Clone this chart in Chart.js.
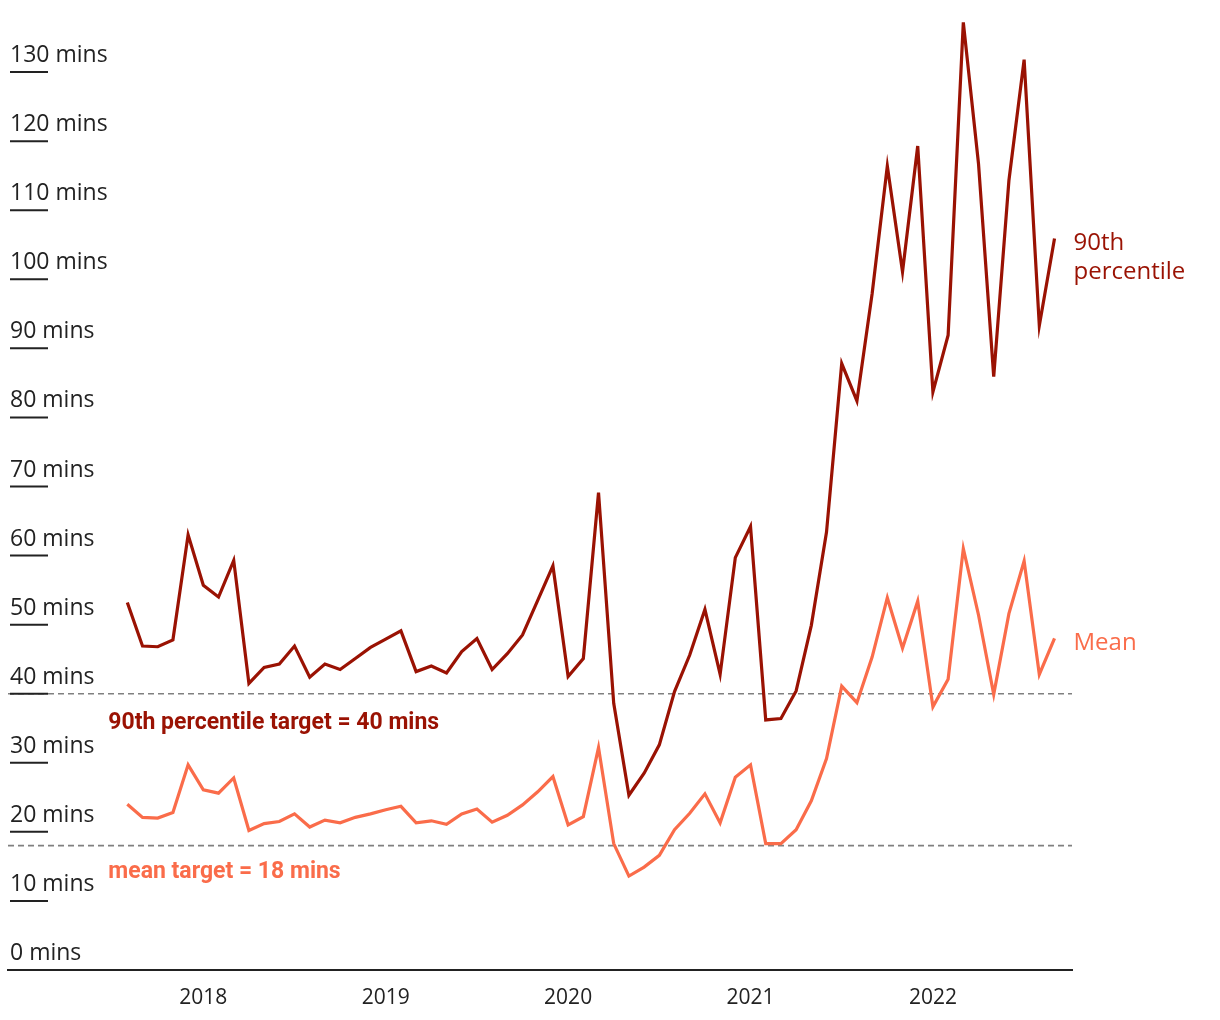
<!DOCTYPE html>
<html>
<head>
<meta charset="utf-8">
<script src="https://cdn.jsdelivr.net/npm/chart.js@4.4.1/dist/chart.umd.min.js"></script>
<style>
  html, body { margin: 0; padding: 0; background: #fff; }
  #wrap { width: 1220px; height: 1020px; position: relative; }
</style>
</head>
<body>
<div id="wrap"><canvas id="chart"></canvas></div>
<script>
// monthly response times, Aug 2017 - Sep 2022
const months = [
  'Aug 2017', 'Sep 2017', 'Oct 2017', 'Nov 2017', 'Dec 2017',
  'Jan 2018', 'Feb 2018', 'Mar 2018', 'Apr 2018', 'May 2018', 'Jun 2018',
  'Jul 2018', 'Aug 2018', 'Sep 2018', 'Oct 2018', 'Nov 2018', 'Dec 2018',
  'Jan 2019', 'Feb 2019', 'Mar 2019', 'Apr 2019', 'May 2019', 'Jun 2019',
  'Jul 2019', 'Aug 2019', 'Sep 2019', 'Oct 2019', 'Nov 2019', 'Dec 2019',
  'Jan 2020', 'Feb 2020', 'Mar 2020', 'Apr 2020', 'May 2020', 'Jun 2020',
  'Jul 2020', 'Aug 2020', 'Sep 2020', 'Oct 2020', 'Nov 2020', 'Dec 2020',
  'Jan 2021', 'Feb 2021', 'Mar 2021', 'Apr 2021', 'May 2021', 'Jun 2021',
  'Jul 2021', 'Aug 2021', 'Sep 2021', 'Oct 2021', 'Nov 2021', 'Dec 2021',
  'Jan 2022', 'Feb 2022', 'Mar 2022', 'Apr 2022', 'May 2022', 'Jun 2022',
  'Jul 2022', 'Aug 2022', 'Sep 2022'
];

const pct90 = [
  53.2, 46.9, 46.8, 47.8, 63.0,
  55.7, 54.0, 59.3, 41.5, 43.8, 44.3, 46.9, 42.4, 44.3, 43.5, 45.1, 46.7,
  47.9, 49.1, 43.2, 44.0, 43.0, 46.1, 48.0, 43.5, 45.8, 48.5, 53.5, 58.5,
  42.5, 45.1, 69.1, 38.6, 25.3, 28.5, 32.6, 40.3, 45.6, 52.2, 42.8, 59.7,
  64.2, 36.2, 36.4, 40.4, 49.9, 63.4, 87.8, 82.4, 97.9, 116.4, 101.1, 119.3,
  83.7, 91.9, 137.2, 116.7, 85.9, 114.3, 131.8, 93.3, 105.9
];

const mean = [
  24.0, 22.1, 22.0, 22.8, 29.7,
  26.1, 25.6, 27.8, 20.2, 21.2, 21.5, 22.6, 20.7, 21.7, 21.3, 22.1, 22.6,
  23.2, 23.7, 21.3, 21.6, 21.1, 22.6, 23.3, 21.4, 22.4, 23.9, 25.8, 28.0,
  21.0, 22.2, 32.2, 18.3, 13.6, 14.9, 16.6, 20.3, 22.7, 25.5, 21.3, 27.9,
  29.7, 18.3, 18.3, 20.3, 24.5, 30.6, 41.1, 38.7, 45.3, 53.9, 46.6, 53.4,
  38.1, 42.1, 61.0, 51.4, 39.9, 51.6, 59.2, 42.8, 48.0
];

const yTicks = [0, 10, 20, 30, 40, 50, 60, 70, 80, 90, 100, 110, 120, 130];
const targetValues = [40, 18];
const targetLabels = ['90th percentile target = 40 mins', 'mean target = 18 mins'];
const seriesLabels = [['90th', 'percentile'], ['Mean']];

const DARK = '#9a1203';
const ORANGE = '#fa6c4a';
const TEXT = '#222222';
const FONT = '"Open Sans", sans-serif';

const toPoints = (arr) => arr.map((v, i) => ({ x: i, y: v }));

const overlay = {
  id: 'overlay',
  beforeDatasetsDraw(chart) {
    const { ctx, chartArea, scales: { y } } = chart;
    ctx.save();
    // target lines
    ctx.setLineDash([6, 4]);
    ctx.strokeStyle = '#808080';
    ctx.lineWidth = 1.6;
    targetValues.forEach((v) => {
      const py = y.getPixelForValue(v);
      ctx.beginPath();
      ctx.moveTo(chartArea.left, py);
      ctx.lineTo(chartArea.right, py);
      ctx.stroke();
    });
    ctx.setLineDash([]);

    // y axis labels sitting on short tick lines
    ctx.font = '23px ' + FONT;
    ctx.fillStyle = TEXT;
    ctx.strokeStyle = TEXT;
    ctx.lineWidth = 2;
    ctx.textAlign = 'left';
    ctx.textBaseline = 'alphabetic';
    yTicks.forEach((v) => {
      const py = y.getPixelForValue(v);
      ctx.fillText(v + ' mins', 10, py - 10);
      if (v > 0) {
        ctx.beginPath();
        ctx.moveTo(10, py);
        ctx.lineTo(48, py);
        ctx.stroke();
      }
    });
    ctx.restore();
  },
  afterDatasetsDraw(chart) {
    const { ctx, scales: { x, y } } = chart;
    ctx.save();
    ctx.textAlign = 'left';
    ctx.textBaseline = 'middle';

    // target labels
    ctx.font = 'bold 23px Roboto, sans-serif';
    const startX = x.getPixelForValue(0) - 19;
    const labelGap = [30, 27];
    targetLabels.forEach((t, i) => {
      ctx.fillStyle = i === 0 ? DARK : ORANGE;
      ctx.fillText(t, startX, y.getPixelForValue(targetValues[i]) + labelGap[i]);
    });

    // series labels at the end of each line
    ctx.font = '24px ' + FONT;
    const last = months.length - 1;
    const endX = x.getPixelForValue(last) + 19;
    [pct90, mean].forEach((arr, i) => {
      ctx.fillStyle = i === 0 ? DARK : ORANGE;
      const py = y.getPixelForValue(arr[last]) + 5;
      seriesLabels[i].forEach((line, j) => {
        ctx.fillText(line, endX, py + j * 29);
      });
    });
    ctx.restore();
  }
};

new Chart(document.getElementById('chart'), {
  type: 'line',
  data: {
    datasets: [
      {
        label: '90th percentile',
        data: toPoints(pct90),
        borderColor: DARK,
        borderWidth: 3.2,
        pointRadius: 0,
        tension: 0,
        fill: false
      },
      {
        label: 'Mean',
        data: toPoints(mean),
        borderColor: ORANGE,
        borderWidth: 3.2,
        pointRadius: 0,
        tension: 0,
        fill: false
      }
    ]
  },
  options: {
    responsive: true,
    maintainAspectRatio: false,
    animation: false,
    layout: { padding: { left: 8, right: 148, top: 3, bottom: 0 } },
    plugins: {
      legend: { display: false },
      tooltip: { enabled: false }
    },
    scales: {
      x: {
        type: 'linear',
        min: -7.85,
        max: 62.15,
        grid: { display: false, drawTicks: false },
        border: { display: true, color: TEXT, width: 2 },
        afterBuildTicks: (scale) => {
          scale.ticks = months
            .map((m, i) => ({ value: i, m }))
            .filter((t) => t.m.startsWith('Jan'))
            .map((t) => ({ value: t.value }));
        },
        afterFit: (scale) => { scale.height = 50; },
        ticks: {
          padding: 15,
          color: TEXT,
          font: { family: FONT, size: 21 },
          maxRotation: 0,
          callback: (value) => months[value] ? months[value].slice(4) : ''
        }
      },
      y: {
        display: false,
        min: 0,
        max: 140
      }
    }
  },
  plugins: [overlay]
});
</script>
</body>
</html>
